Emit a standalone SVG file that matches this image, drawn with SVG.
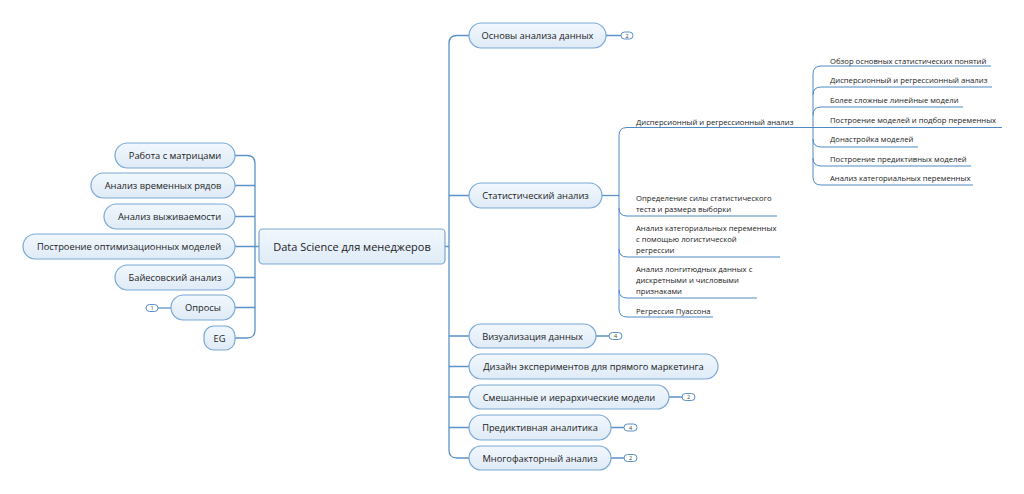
<svg xmlns="http://www.w3.org/2000/svg" width="1024" height="494" viewBox="0 0 1024 494">
<defs>
<linearGradient id="g" x1="0" y1="0" x2="0" y2="1">
<stop offset="0" stop-color="#f1f7fd"/>
<stop offset="1" stop-color="#dfebf7"/>
</linearGradient>
</defs>
<style>
.n rect{fill:url(#g);stroke:#7aa8d6;stroke-width:1.2}
.n text{font-family:"Open Sans","Noto Sans",sans-serif;font-size:9.3px;fill:#222;text-anchor:middle}
.c text{font-size:11px}
.b rect{fill:#fff;stroke:#5a8fc4;stroke-width:1}
.b text{font-family:"Open Sans",sans-serif;font-size:5.5px;fill:#444;text-anchor:middle}
.l{fill:none;stroke:#5b92c8;stroke-width:1.3}
.s{fill:none;stroke:#4f88c2;stroke-width:1}
.t text{font-family:"Open Sans","Noto Sans",sans-serif;font-size:7.7px;fill:#222}
</style>
<rect width="1024" height="494" fill="#fff"/>
<g id="connectors">
<path class="l" d="M235,155.5 H247 Q255,155.5 255,163.5 V330 Q255,338 247,338 H235"/>
<path class="l" d="M235,185.5 H255 M235,216.5 H255 M235,246.5 H259 M235,277.5 H255 M235,307.5 H255"/>
<path class="l" d="M158,308 H171"/>
<path class="l" d="M469,35.5 H457 Q449,35.5 449,43.5 V450 Q449,458 457,458 H469"/>
<path class="l" d="M445,246.5 H449 M449,195.5 H469 M449,336 H469 M449,366.5 H469 M449,397 H469 M449,427.5 H469"/>
<path class="l" d="M606,35.5 H621 M596,336 H609 M669,397 H682 M611,427.5 H624 M611,458 H624"/>
<path class="l" d="M602,195.5 H619"/>
<path class="s" d="M813,127.5 H627 Q619,127.5 619,135.5 V309 Q619,317 627,317 H713"/>
<path class="s" d="M619,208 Q619,216 627,216 H777 M619,249 Q619,257 627,257 H780 M619,290 Q619,298 627,298 H757"/>
<path class="s" d="M991,66 H821 Q813,66 813,74 V177 Q813,185 821,185 H973"/>
<path class="s" d="M813,95 Q813,87 821,87 H992 M813,115 Q813,107 821,107 H963 M813,127.5 H1002 M813,139 Q813,147 821,147 H918 M813,158 Q813,166 821,166 H971"/>
</g>
<g id="central" class="n c"><rect x="259" y="229" width="186" height="35" rx="4"/><text x="352" y="250.5">Data Science для менеджеров</text></g>
<g id="n-matrix" class="n"><rect x="115" y="143" width="120" height="25" rx="12.5"/><text x="175" y="159">Работа с матрицами</text></g>
<g id="n-time" class="n"><rect x="91" y="173" width="144" height="25" rx="12.5"/><text x="163" y="189">Анализ временных рядов</text></g>
<g id="n-surv" class="n"><rect x="104" y="204" width="131" height="25" rx="12.5"/><text x="169.5" y="220">Анализ выживаемости</text></g>
<g id="n-opt" class="n"><rect x="23" y="234" width="212" height="25" rx="12.5"/><text x="129" y="250">Построение оптимизационных моделей</text></g>
<g id="n-bayes" class="n"><rect x="115" y="265" width="120" height="25" rx="12.5"/><text x="175" y="281">Байесовский анализ</text></g>
<g id="n-survey" class="n"><rect x="171" y="295" width="64" height="25" rx="12.5"/><text x="203" y="311">Опросы</text></g>
<g id="b-survey" class="b"><rect x="146" y="304.5" width="12" height="7" rx="3.5"/><text x="152" y="310">1</text></g>
<g id="n-eg" class="n"><rect x="204" y="326" width="31" height="24" rx="10"/><text x="219.5" y="341.5">EG</text></g>
<g id="n-basics" class="n"><rect x="469" y="23" width="137" height="25" rx="12.5"/><text x="537.5" y="39">Основы анализа данных</text></g>
<g id="b-basics" class="b"><rect x="621" y="32" width="12" height="7" rx="3.5"/><text x="627" y="37.5">2</text></g>
<g id="n-stat" class="n"><rect x="469" y="183" width="133" height="25" rx="12.5"/><text x="535.5" y="199">Статистический анализ</text></g>
<g id="n-vis" class="n"><rect x="469" y="324" width="127" height="24" rx="12"/><text x="532.5" y="339.5">Визуализация данных</text></g>
<g id="b-vis" class="b"><rect x="609" y="332.5" width="13" height="7" rx="3.5"/><text x="615.5" y="338">4</text></g>
<g id="n-design" class="n"><rect x="469" y="354" width="249" height="25" rx="12.5"/><text x="593.5" y="370">Дизайн экспериментов для прямого маркетинга</text></g>
<g id="n-mixed" class="n"><rect x="469" y="385" width="200" height="24" rx="12"/><text x="569" y="400.5">Смешанные и иерархические модели</text></g>
<g id="b-mixed" class="b"><rect x="682" y="393.5" width="13" height="7" rx="3.5"/><text x="688.5" y="399">2</text></g>
<g id="n-pred" class="n"><rect x="469" y="415" width="142" height="25" rx="12.5"/><text x="540" y="431">Предиктивная аналитика</text></g>
<g id="b-pred" class="b"><rect x="624" y="424" width="13" height="7" rx="3.5"/><text x="630.5" y="429.5">4</text></g>
<g id="n-multi" class="n"><rect x="469" y="446" width="142" height="24" rx="12"/><text x="540" y="461.5">Многофакторный анализ</text></g>
<g id="b-multi" class="b"><rect x="624" y="454.5" width="13" height="7" rx="3.5"/><text x="630.5" y="460">2</text></g>
<g id="stat-children" class="t">
<text x="636" y="125">Дисперсионный и регрессионный анализ</text>
<text x="636" y="201">Определение силы статистического</text>
<text x="636" y="212">теста и размера выборки</text>
<text x="636" y="231">Анализ категориальных переменных</text>
<text x="636" y="242">с помощью логистической</text>
<text x="636" y="253">регрессии</text>
<text x="636" y="272">Анализ лонгитюдных данных с</text>
<text x="636" y="283">дискретными и числовыми</text>
<text x="636" y="294">признаками</text>
<text x="636" y="314">Регрессия Пуассона</text>
</g>
<g id="disp-children" class="t">
<text x="830" y="64">Обзор основных статистических понятий</text>
<text x="830" y="83">Дисперсионный и регрессионный анализ</text>
<text x="830" y="103">Более сложные линейные модели</text>
<text x="830" y="123">Построение моделей и подбор переменных</text>
<text x="830" y="142">Донастройка моделей</text>
<text x="830" y="162">Построение предиктивных моделей</text>
<text x="830" y="181">Анализ категориальных переменных</text>
</g>
</svg>
